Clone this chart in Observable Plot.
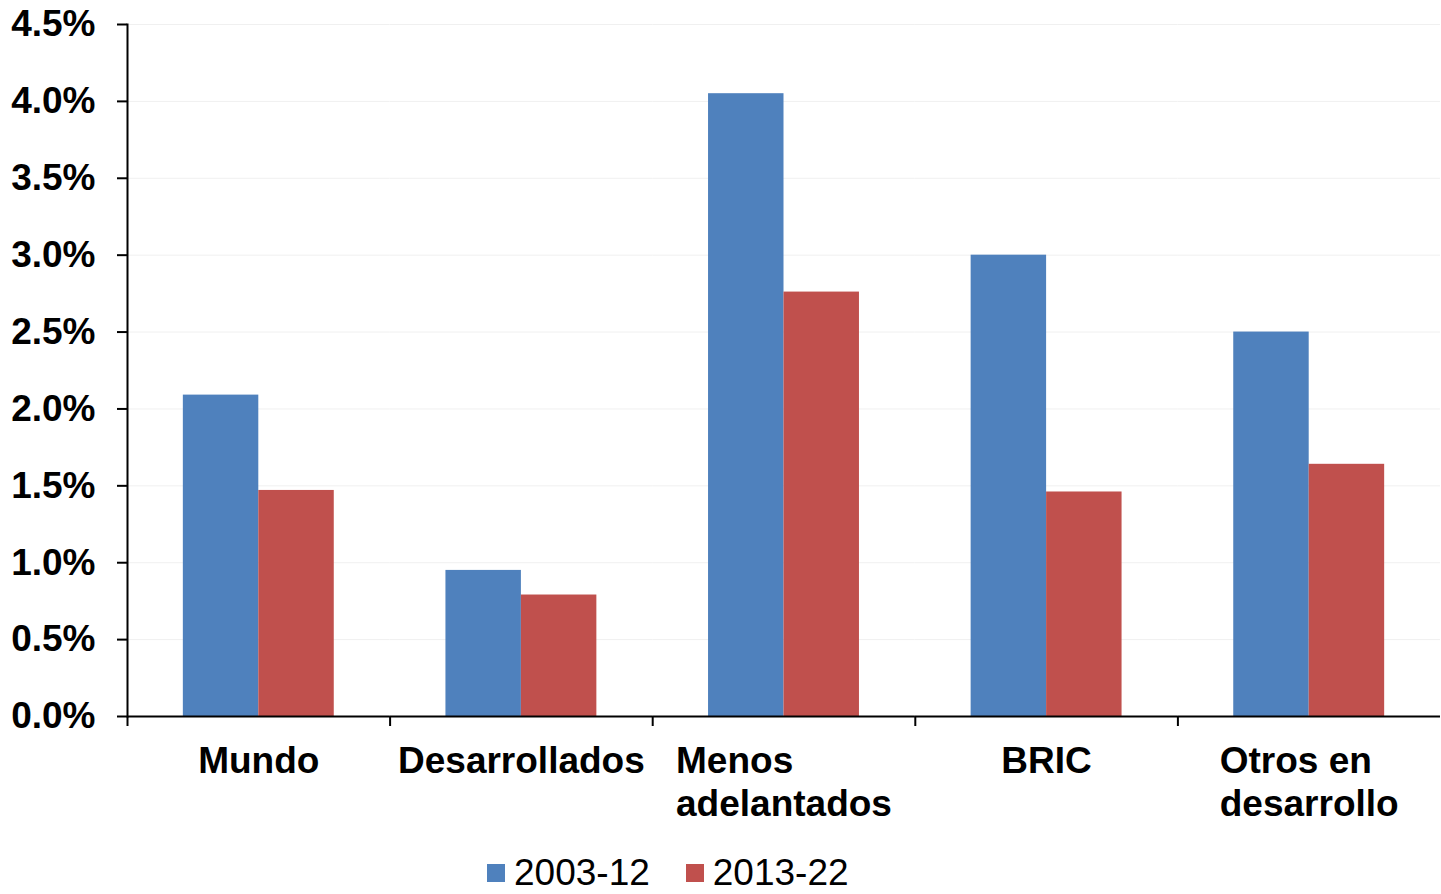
<!DOCTYPE html>
<html><head><meta charset="utf-8">
<script src="https://cdn.jsdelivr.net/npm/d3@7"></script>
<script src="https://cdn.jsdelivr.net/npm/@observablehq/plot@0.6"></script>
<style>
body{margin:0;background:#fff;font-family:"Liberation Sans",Arial,sans-serif;overflow:hidden;}
#legend{display:flex;align-items:center;height:34px;line-height:34px;margin-top:-2px;padding-left:487px;font-size:37px;color:#000;}
.item{display:flex;align-items:center;margin-right:36px;}
.sw{width:18px;height:18px;display:inline-block;margin-right:9px;}
</style></head><body>
<div id="chart"></div>
<div id="legend"></div>
<script>
const categories = ["Mundo", "Desarrollados", "Menos\nadelantados", "BRIC", "Otros en\ndesarrollo"];
const series = ["2003-12", "2013-22"];
const values2003 = [2.09, 0.95, 4.05, 3.00, 2.50];
const values2013 = [1.47, 0.79, 2.76, 1.46, 1.64];
const colors = ["#4F81BD", "#C0504D"];
const yTicks = [0, 0.5, 1.0, 1.5, 2.0, 2.5, 3.0, 3.5, 4.0, 4.5];

const data = categories.flatMap((c, i) => [
  {cat: c, series: series[0], value: values2003[i]},
  {cat: c, series: series[1], value: values2013[i]}
]);

const W = 1441, H = 858;
const mL = 127, mR = 1, mT = 24, mB = H - 716;
const bw = (W - mL - mR) / categories.length;

const plot = Plot.plot({
  width: W, height: H,
  marginLeft: mL, marginRight: mR, marginTop: mT, marginBottom: mB,
  style: {fontFamily: "'Liberation Sans', Arial, sans-serif", fontSize: "37px", color: "#000", background: "#fff"},
  fx: {domain: categories, padding: 0, label: null, round: false},
  x: {domain: series, paddingInner: 0, paddingOuter: 0.74, axis: null, round: false},
  y: {domain: [0, 4.5], label: null},
  color: {domain: series, range: colors},
  marks: [
    Plot.gridY(yTicks, {stroke: "#f0f0f0", strokeOpacity: 1}),
    Plot.barY(data, {fx: "cat", x: "series", y: "value", fill: "series"}),
    Plot.ruleY([0], {stroke: "#000", strokeWidth: 2}),
    Plot.frame({anchor: "left", fx: () => categories[0], stroke: "#000", strokeWidth: 2}),
    Plot.axisY({ticks: yTicks, tickFormat: d => d.toFixed(1) + "%", tickSize: 10, tickPadding: 22,
      fontWeight: "bold", fontSize: 37, strokeWidth: 2, label: null}),
    Plot.axisFx({anchor: "bottom", tickSize: 10, text: null, dx: -bw / 2, strokeWidth: 2, label: null}),
    Plot.axisFx({anchor: "bottom", tickSize: 0, tickPadding: 27, fontWeight: "bold", fontSize: 37,
      lineHeight: 1.14, textAnchor: "start", label: null})
  ]
});
document.getElementById("chart").appendChild(plot);

// center each multi-line label block while keeping its lines left-aligned
plot.querySelectorAll("g[aria-label='fx-axis tick label'] text").forEach(t => {
  const b = t.getBBox();
  const tr = t.getAttribute("transform") || "";
  t.setAttribute("transform", tr + ` translate(${-(b.x + b.width / 2)},0)`);
});

const legend = document.getElementById("legend");
series.forEach((s, i) => {
  const it = document.createElement("div");
  it.className = "item";
  it.innerHTML = `<span class="sw" style="background:${colors[i]}"></span><span>${s}</span>`;
  legend.appendChild(it);
});
</script>
</body></html>
